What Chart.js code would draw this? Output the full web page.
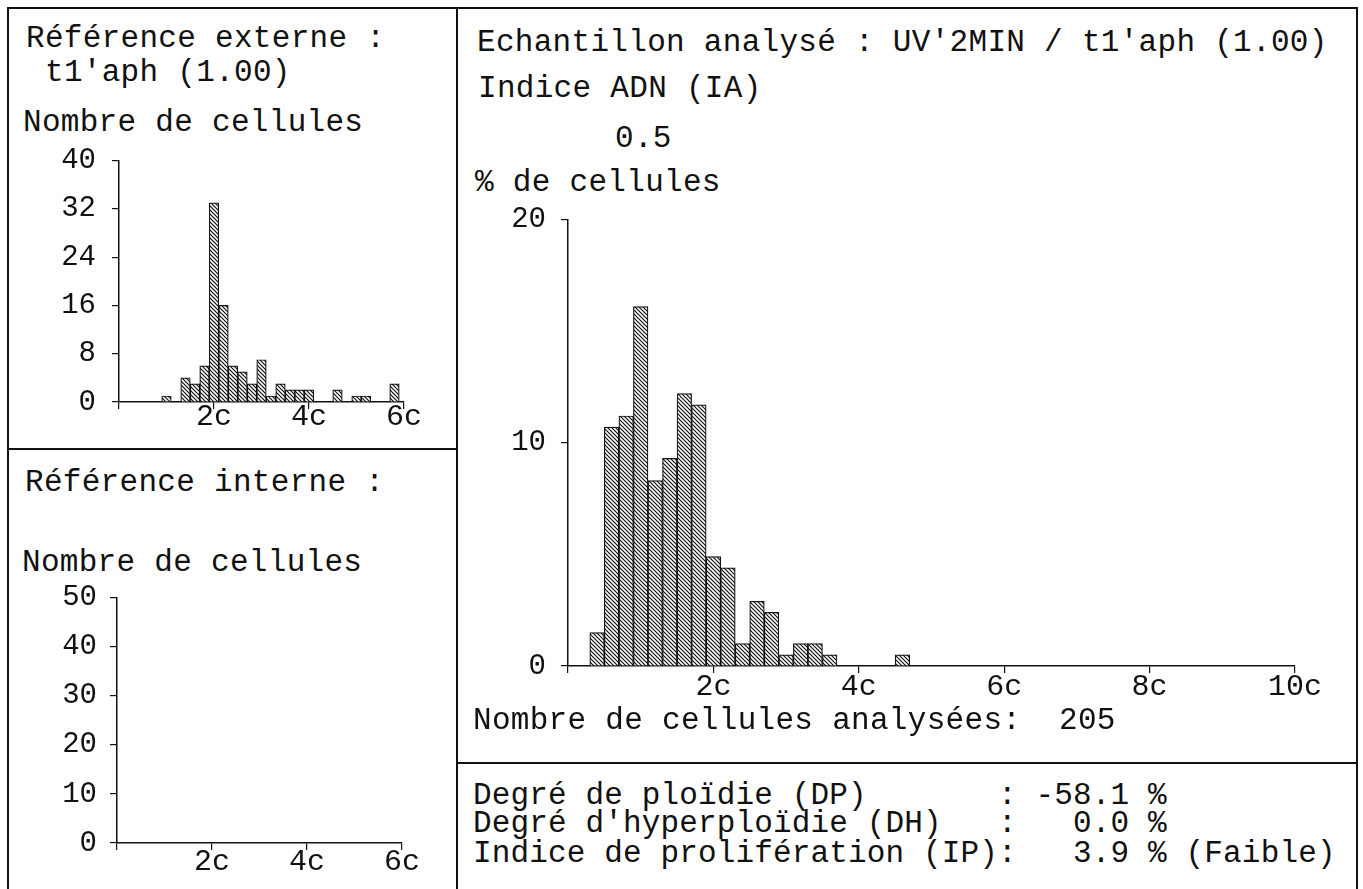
<!DOCTYPE html>
<html lang="fr">
<head>
<meta charset="utf-8">
<title>Histogrammes ADN</title>
<script src="https://cdn.jsdelivr.net/npm/chart.js@4/dist/chart.umd.min.js"></script>
<style>
  html, body { margin: 0; padding: 0; background: #fff; }
  #sheet { position: relative; width: 1363px; height: 889px; overflow: hidden; background: #fff;
           font-family: "Courier New", "Nimbus Mono PS", "FreeMono", "Liberation Mono", "DejaVu Sans Mono", monospace; color: #111; }
  .t { position: absolute; white-space: pre; font-size: 31px; line-height: 31px; letter-spacing: 0.3px; }
  .t.wide { letter-spacing: 0.15px; }
  .rule { position: absolute; background: #111; }
  canvas { position: absolute; }
</style>
</head>
<body>
<div id="sheet">
  <!-- frame -->
  <div class="rule" style="left:7px; top:7px; width:1351px; height:2px;"></div>
  <div class="rule" style="left:7px; top:7px; width:2px; height:882px;"></div>
  <div class="rule" style="left:456px; top:7px; width:2px; height:882px;"></div>
  <div class="rule" style="left:1356px; top:7px; width:2px; height:882px;"></div>
  <div class="rule" style="left:7px; top:448px; width:450px; height:2px;"></div>
  <div class="rule" style="left:456px; top:762px; width:902px; height:2px;"></div>

  <!-- external reference panel -->
  <div class="t" style="left:26px; top:23px;">Référence externe :</div>
  <div class="t" style="left:45px; top:57px;">t1'aph (1.00)</div>
  <div class="t" style="left:23px; top:107px;">Nombre de cellules</div>
  <canvas id="extChart" width="410" height="310" style="left:30px; top:130px;"></canvas>

  <!-- internal reference panel -->
  <div class="t" style="left:25px; top:467px;">Référence interne :</div>
  <div class="t" style="left:22px; top:547px;">Nombre de cellules</div>
  <canvas id="intChart" width="410" height="319" style="left:30px; top:570px;"></canvas>

  <!-- analysed sample panel -->
  <div class="t" style="left:477px; top:27px;">Echantillon analysé : UV'2MIN / t1'aph (1.00)</div>
  <div class="t" style="left:478px; top:73px;">Indice ADN (IA)</div>
  <div class="t" style="left:615px; top:123px;">0.5</div>
  <div class="t" style="left:475px; top:167px;">% de cellules</div>
  <canvas id="sampleChart" width="880" height="520" style="left:470px; top:190px;"></canvas>
  <div class="t" style="left:473px; top:705px;">Nombre de cellules analysées:  205</div>

  <!-- indices -->
  <div class="t wide" style="left:473px; top:780px;">Degré de ploïdie (DP)       : -58.1 %</div>
  <div class="t wide" style="left:473px; top:808px;">Degré d'hyperploïdie (DH)   :   0.0 %</div>
  <div class="t wide" style="left:473px; top:838px;">Indice de prolifération (IP):   3.9 % (Faible)</div>
</div>

<script>
// ---- data: DNA content histograms (bin centres in "c" units, bin width 0.2c) ----
const extBinCenters = [1.0, 1.4, 1.6, 1.8, 2.0, 2.2, 2.4, 2.6, 2.8, 3.0, 3.2, 3.4, 3.6, 3.8, 4.0, 4.6, 5.0, 5.2, 5.8];
const extCellCounts = [1, 4, 3, 6, 33, 16, 6, 5, 3, 7, 1, 3, 2, 2, 2, 2, 1, 1, 3];

const intBinCenters = [];
const intCellCounts = [];

const sampleBinCenters = [0.4, 0.6, 0.8, 1.0, 1.2, 1.4, 1.6, 1.8, 2.0, 2.2, 2.4, 2.6, 2.8, 3.0, 3.2, 3.4, 3.6, 4.6];
const samplePercents   = [1.5, 10.7, 11.2, 16.1, 8.3, 9.3, 12.2, 11.7, 4.9, 4.4, 1.0, 2.9, 2.4, 0.5, 1.0, 1.0, 0.5, 0.5];

// ---- tick values ----
const extYTicks = [0, 8, 16, 24, 32, 40];
const intYTicks = [0, 10, 20, 30, 40, 50];
const sampleYTicks = [0, 10, 20];
const refXTicks = [0, 2, 4, 6];
const sampleXTicks = [0, 2, 4, 6, 8, 10];

const FONT = '"Courier New", "Nimbus Mono PS", "FreeMono", "Liberation Mono", "DejaVu Sans Mono", monospace';
const INK = '#111';

// diagonal "\" hatch used to fill the bars
function hatchPattern() {
  const c = document.createElement('canvas');
  c.width = 4; c.height = 4;
  const g = c.getContext('2d');
  g.fillStyle = '#fff';
  g.fillRect(0, 0, 4, 4);
  g.strokeStyle = '#111';
  g.lineWidth = 1.2;
  g.beginPath();
  g.moveTo(-1, -1); g.lineTo(5, 5);
  g.moveTo(-1, 3); g.lineTo(1, 5);
  g.moveTo(3, -1); g.lineTo(5, 1);
  g.stroke();
  return g.createPattern(c, 'repeat');
}

function histogram(id, centers, values, geo) {
  const ctx = document.getElementById(id).getContext('2d');
  return new Chart(ctx, {
    type: 'bar',
    data: {
      datasets: [{
        data: centers.map((x, i) => ({ x: x, y: values[i] })),
        backgroundColor: hatchPattern(),
        borderColor: INK,
        borderWidth: 1.2,
        borderSkipped: 'bottom',
        barPercentage: 1,
        categoryPercentage: 1
      }]
    },
    options: {
      responsive: false,
      animation: false,
      events: [],
      layout: { padding: { left: 0, top: geo.padTop, right: geo.padRight, bottom: 0 } },
      plugins: { legend: { display: false }, tooltip: { enabled: false } },
      scales: {
        x: {
          type: 'linear',
          min: 0,
          max: geo.xMax,
          offset: false,
          afterBuildTicks: s => { s.ticks = geo.xTicks.map(v => ({ value: v })); },
          afterFit: s => { s.height = geo.xHeight; },
          grid: { display: true, offset: false, drawOnChartArea: false, drawTicks: true, tickLength: 7, color: INK, lineWidth: 1.2 },
          border: { display: true, color: INK, width: 1.5 },
          ticks: {
            autoSkip: false, maxRotation: 0, minRotation: 0,
            padding: geo.xPad,
            color: INK,
            font: { family: FONT, size: 30, lineHeight: 1 },
            callback: v => (v === 0 ? '' : v + 'c')
          }
        },
        y: {
          min: 0,
          max: geo.yMax,
          afterBuildTicks: s => { s.ticks = geo.yTicks.map(v => ({ value: v })); },
          afterFit: s => { s.width = geo.yWidth; },
          grid: { display: true, drawOnChartArea: false, drawTicks: true, tickLength: 7, color: INK, lineWidth: 1.2 },
          border: { display: true, color: INK, width: 1.5 },
          ticks: {
            padding: geo.yPad,
            color: INK,
            font: { family: FONT, size: 29, lineHeight: 1 },
            callback: v => String(v)
          }
        }
      }
    }
  });
}

histogram('extChart', extBinCenters, extCellCounts, {
  xMax: 6, yMax: 40, xTicks: refXTicks, yTicks: extYTicks,
  padTop: 22, padRight: 36, yWidth: 89, xHeight: 38, xPad: -7, yPad: 16
});

histogram('intChart', intBinCenters, intCellCounts, {
  xMax: 6, yMax: 50, xTicks: refXTicks, yTicks: intYTicks,
  padTop: 24, padRight: 38, yWidth: 87, xHeight: 46, xPad: -3, yPad: 13
});

histogram('sampleChart', sampleBinCenters, samplePercents, {
  xMax: 10, yMax: 20, xTicks: sampleXTicks, yTicks: sampleYTicks,
  padTop: 27, padRight: 55, yWidth: 98, xHeight: 44, xPad: -1, yPad: 15
});
</script>
</body>
</html>
